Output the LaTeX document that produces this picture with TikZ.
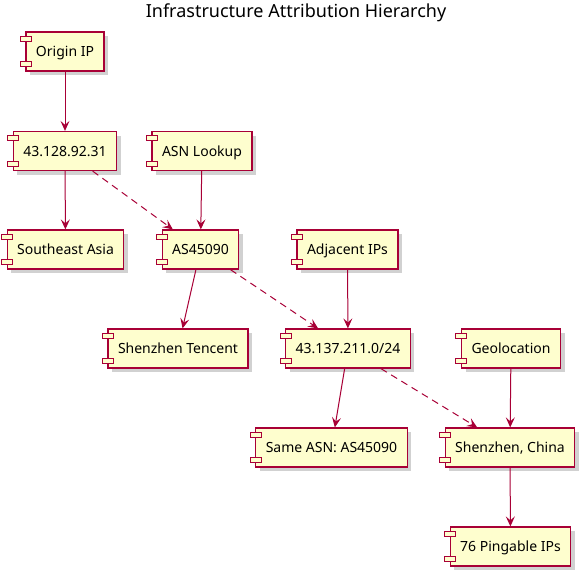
\documentclass[tikz,border=0pt]{standalone}
\usepackage{fontspec}
\setmainfont{Noto Sans}
\usetikzlibrary{arrows.meta, shadows}
\definecolor{umlred}{HTML}{A80036}
\definecolor{umlfill}{HTML}{FEFECE}
\tikzset{
  comp/.style={draw=umlred, fill=umlfill, line width=1.2pt, minimum height=39pt, inner xsep=10pt, inner ysep=0pt,
    text height=12pt, text depth=2pt,
    font=\fontsize{14}{17}\selectfont, drop shadow={shadow xshift=4pt, shadow yshift=-4pt, opacity=.3, fill=black!60}},
  tab/.style={draw=umlred, fill=umlfill, line width=1pt},
  link/.style={draw=umlred, line width=1pt, -{Stealth[length=10pt, width=9pt, inset=4pt]}},
  weak/.style={link, dash pattern=on 7pt off 5pt}
}
\begin{document}
\begin{tikzpicture}[x=1pt, y=-1pt]
  \useasboundingbox (0,0) rectangle (587,576);
  \node[font=\fontsize{18}{21}\selectfont] (title) at (296,13) {Infrastructure Attribution Hierarchy};
  % components
  \node[comp] (origin) at (65,51.5) {Origin IP};
  \node[comp] (ip) at (65,151) {43.128.92.31};
  \node[comp] (lookup) at (202,151) {ASN Lookup};
  \node[comp] (region) at (65.5,249.5) {Southeast Asia};
  \node[comp] (asn) at (200.5,249.5) {AS45090};
  \node[comp] (adjacent) at (347.5,249.5) {Adjacent IPs};
  \node[comp] (tencent) at (178,348.5) {Shenzhen Tencent};
  \node[comp] (subnet) at (348,348.5) {43.137.211.0/24};
  \node[comp] (geo) at (511,348.5) {Geolocation};
  \node[comp] (sameasn) at (331.5,447.5) {Same ASN: AS45090};
  \node[comp] (city) at (510,447.5) {Shenzhen, China};
  \node[comp] (pingable) at (510.5,546.5) {76 Pingable IPs};
  \foreach \n in {origin, ip, lookup, region, asn, adjacent, tencent, subnet, geo, sameasn, city, pingable}{
    \draw[tab] ([xshift=-5pt, yshift=-5pt]\n.north west) rectangle ++(11,5);
    \draw[tab] ([xshift=-5pt, yshift=5pt]\n.south west) rectangle ++(11,-5);
  }
  % links
  \draw[link] (origin) -- (ip);
  \draw[link] (ip) -- (region);
  \draw[weak] (ip) -- (asn);
  \draw[link] (lookup) -- (asn);
  \draw[link] (asn) -- (tencent);
  \draw[weak] (asn) -- (subnet);
  \draw[link] (adjacent) -- (subnet);
  \draw[link] (subnet) -- (sameasn);
  \draw[weak] (subnet) -- (city);
  \draw[link] (geo) -- (city);
  \draw[link] (city) -- (pingable);
\end{tikzpicture}
\end{document}
